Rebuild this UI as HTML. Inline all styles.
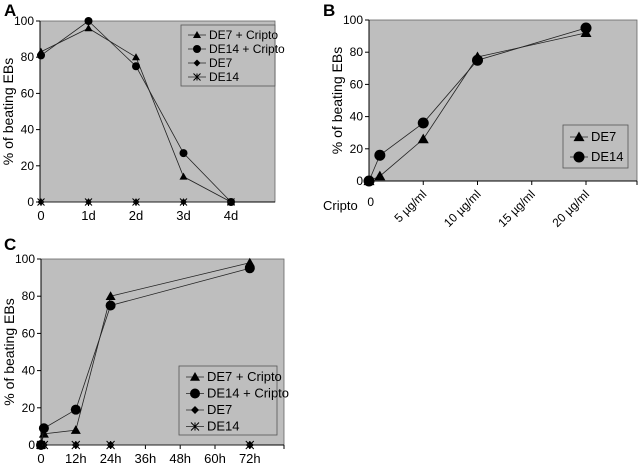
<!DOCTYPE html>
<html><head><meta charset="utf-8">
<style>
html,body{margin:0;padding:0;background:#fff;}
svg{display:block;font-family:"Liberation Sans",Arial,sans-serif;}
</style></head>
<body>
<svg id="fig" width="640" height="467" viewBox="0 0 640 467" xmlns="http://www.w3.org/2000/svg">
<text x="4" y="16" font-size="17" font-weight="bold">A</text>
<text x="323" y="16" font-size="17" font-weight="bold">B</text>
<text x="4" y="250" font-size="17" font-weight="bold">C</text>
</svg>
<script>
// Panel A data
const aCats = ["0","1d","2d","3d","4d"];
const aDE7C = [83,96,80,14,0];
const aDE14C = [81,100,75,27,0];
const aDE7 = [0,0,0,0,0];
const aDE14 = [0,0,0,0,0];
// Panel B data
const bX = [0,1,5,10,20];
const bDE7 = [0,3,26,77,92];
const bDE14 = [0,16,36,75,95];
const bTicks = [0,5,10,15,20];
const bTickLabels = ["0","5 \u00b5g/ml","10 \u00b5g/ml","15 \u00b5g/ml","20 \u00b5g/ml"];
// Panel C data
const cX = [0,1,12,24,72];
const cDE7C = [0,6,8,80,98];
const cDE14C = [0,9,19,75,95];
const cDE7 = [0,0,0,0,0];
const cDE14 = [0,0,0,0,0];
const cTicks = [0,12,24,36,48,60,72];
const cTickLabels = ["0","12h","24h","36h","48h","60h","72h"];
const yTicks = [0,20,40,60,80,100];

const NS="http://www.w3.org/2000/svg";
const svg=document.getElementById('fig');
function mk(tag,attrs,parent){const e=document.createElementNS(NS,tag);for(const k in attrs)e.setAttribute(k,attrs[k]);(parent||svg).appendChild(e);return e;}

function marker(g,type,x,y,s){
  let e;
  if(type==='tri'){e=mk('polygon',{points:`${x},${y-s} ${x-s},${y+s*0.75} ${x+s},${y+s*0.75}`,fill:'#000'},g);}
  else if(type==='circ'){e=mk('circle',{cx:x,cy:y,r:s,fill:'#000'},g);}
  else if(type==='dia'){e=mk('polygon',{points:`${x},${y-s} ${x+s},${y} ${x},${y+s} ${x-s},${y}`,fill:'#000'},g);}
  else {e=mk('path',{d:`M${x-s},${y-s}L${x+s},${y+s}M${x-s},${y+s}L${x+s},${y-s}M${x},${y-s}L${x},${y+s}`,stroke:'#000','stroke-width':1,fill:'none'},g);}
  return e;
}

function panel(p){
  const g=mk('g',{});
  
  
  const r=mk('rect',{x:p.L,y:p.T,width:p.R-p.L,height:p.B-p.T,fill:'#bebebe',stroke:'#666','stroke-width':0.8},g);
  
  
  const ys=v=>p.B-(v/100)*(p.B-p.T);
  mk('line',{x1:p.L,y1:p.T,x2:p.L,y2:p.B,stroke:'#000','stroke-width':1},g);
  mk('line',{x1:p.L,y1:p.B,x2:p.R,y2:p.B,stroke:'#000','stroke-width':1},g);
  yTicks.forEach(v=>{
    mk('line',{x1:p.L-4,y1:ys(v),x2:p.L,y2:ys(v),stroke:'#000'},g);
    const t=mk('text',{x:p.L-6,y:ys(v)+4,'font-size':12,'text-anchor':'end'},g);
    t.textContent=v;
    
    
  });
  const yt=mk('text',{x:0,y:0,'font-size':14,'text-anchor':'middle',transform:`translate(${p.L-27},${(p.T+p.B)/2}) rotate(-90)`},g);
  yt.textContent='% of beating EBs';
  
  
  p.xTicks.forEach((v,i)=>{
    const x=p.xs(v);
    mk('line',{x1:x,y1:p.B,x2:x,y2:p.B+4,stroke:'#000'},g);
    let t;
    if(p.rot){t=mk('text',{x:0,y:0,'font-size':12,'text-anchor':'end',transform:`translate(${x+4},${p.B+14}) rotate(-45)`},g);
      if(i===0){t.setAttribute('transform',`translate(${x+5},${p.B+25})`);}
    } else t=mk('text',{x:x,y:p.B+18,'font-size':13,'text-anchor':'middle'},g);
    t.textContent=p.xLabels[i];
    
    
  });
  if(p.extraTick){const x=p.R;mk('line',{x1:x,y1:p.B,x2:x,y2:p.B+4,stroke:'#000'},g);}
  p.series.forEach(s=>{
    const sg=mk('g',{},g);
    
    
    const pts=s.vals.map((v,i)=>[p.xs(s.x[i]),ys(v)]);
    const pl=mk('polyline',{points:pts.map(q=>q.join(',')).join(' '),fill:'none',stroke:'#222','stroke-width':0.8},sg);
    
    
    pts.forEach(q=>{const m=marker(sg,s.type,q[0],q[1],s.size);
      
      });
  });
  const lg=mk('g',{},g);
  
  
  mk('rect',{x:p.lg.x,y:p.lg.y,width:p.lg.w,height:p.lg.h,fill:'#bebebe',stroke:'#555','stroke-width':0.8},lg);
  p.series.forEach((s,i)=>{
    const cy=p.lg.y+p.lg.pad+i*p.lg.step;
    const x0=p.lg.x+7;
    const e=mk('g',{},lg);
    
    
    mk('line',{x1:x0,y1:cy,x2:x0+18,y2:cy,stroke:'#222','stroke-width':0.8},e);
    marker(e,s.type,x0+9,cy,s.lsize||s.size);
    const t=mk('text',{x:x0+21,y:cy+4,'font-size':p.lg.fs},e);
    t.textContent=s.label;
  });
}

panel({name:'panel-a-chart',L:40,T:21,R:275,B:202,
  xs:i=>41+i*47.5, xTicks:[0,1,2,3,4], xLabels:aCats, rot:false,
  series:[
    {label:'DE7 + Cripto',x:[0,1,2,3,4],vals:aDE7C,type:'tri',size:4},
    {label:'DE14 + Cripto',x:[0,1,2,3,4],vals:aDE14C,type:'circ',size:4},
    {label:'DE7',x:[0,1,2,3,4],vals:aDE7,type:'dia',size:3.5},
    {label:'DE14',x:[0,1,2,3,4],vals:aDE14,type:'x',size:3.5}],
  lg:{x:181,y:25,w:94,h:61,pad:10,step:14,fs:12}});

panel({name:'panel-b-chart',L:369,T:20,R:637,B:181,
  xs:v=>369+v*10.85, xTicks:bTicks, xLabels:bTickLabels, rot:true, extraTick:true,
  series:[
    {label:'DE7',x:bX,vals:bDE7,type:'tri',size:5.5},
    {label:'DE14',x:bX,vals:bDE14,type:'circ',size:5.5}],
  lg:{x:563,y:125,w:65,h:43,pad:12,step:20,fs:13}});
const cr=mk('text',{x:323,y:210,'font-size':13});
cr.textContent='Cripto';



panel({name:'panel-c-chart',L:41,T:259,R:284,B:445,
  xs:v=>41+v*2.9, xTicks:cTicks, xLabels:cTickLabels, rot:false, extraTick:true,
  series:[
    {label:'DE7 + Cripto',x:cX,vals:cDE7C,type:'tri',size:5},
    {label:'DE14 + Cripto',x:cX,vals:cDE14C,type:'circ',size:5},
    {label:'DE7',x:cX,vals:cDE7,type:'dia',size:4},
    {label:'DE14',x:cX,vals:cDE14,type:'x',size:4}],
  lg:{x:179,y:366,w:98,h:69,pad:11,step:16.5,fs:13}});
</script>
</body></html>
